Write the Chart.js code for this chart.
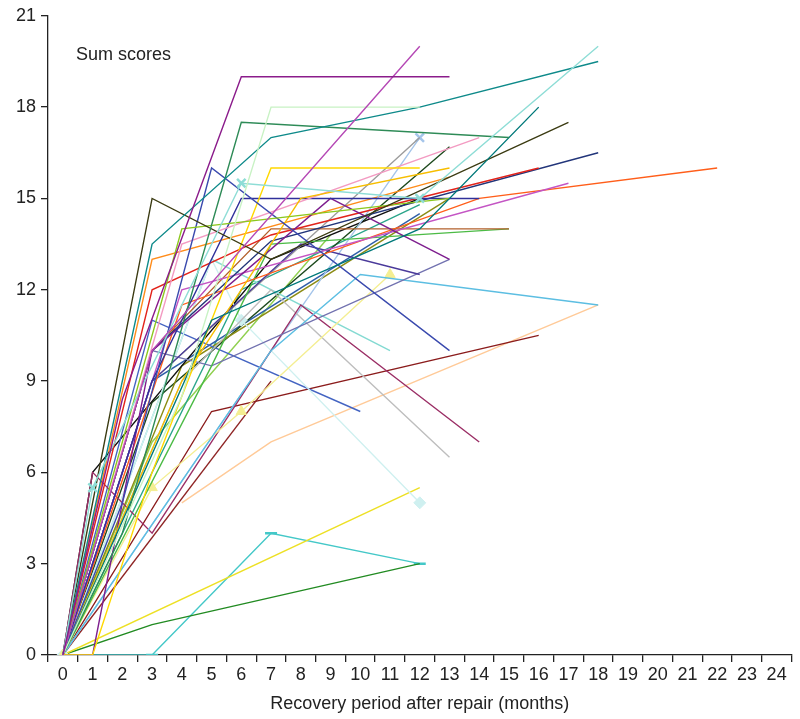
<!DOCTYPE html>
<html>
<head>
<meta charset="utf-8">
<script src="https://cdn.jsdelivr.net/npm/chart.js@4.4.1/dist/chart.umd.min.js"></script>
<style>
  html, body { margin: 0; padding: 0; background: #fff; }
  #wrap { width: 800px; height: 719px; position: relative; }
</style>
</head>
<body>
<div id="wrap"><canvas id="graph"></canvas></div>
<script>
const panelTitle = 'Sum scores';
const xTitle = 'Recovery period after repair (months)';
const monthTicks = [0,1,2,3,4,5,6,7,8,9,10,11,12,13,14,15,16,17,18,19,20,21,22,23,24];
const scoreTicks = [0,3,6,9,12,15,18,21];

// one entry per patient: months of follow-up and sum score at each visit
const lineMonths = [
  [0,2,6,13], [0,3,12], [0,4,7,12], [0,1,6,12,18], [0,3,7,12,18],
  [0,2,6,15], [0,5,12,16], [0,3,7,17], [0,4,13], [0,2,5,13],
  [0,1,3,7,12], [0,4,8,13], [0,4,14], [0,3,6,14], [0,1,3,9,13],
  [0,3,7,16], [0,3,7,18], [0,4,17], [0,4,14,22], [0,3,7,15],
  [0,5,7,15], [0,3,8,12], [0,3,5,13], [0,7,10,18], [0,3,6,11],
  [0,1,3,8,14], [0,4,7,13], [0,3,12], [0,7,12], [0,5,6,12],
  [0,5,11], [0,3,10], [0,5,16], [0,7], [4,7,18],
  [0,12], [0,3,12], [0,3,7,12], [0,1,7,12], [0,3,13],
  [0,4,13], [0,3,13], [0,3,12], [0,6,12], [0,3,9]
];
const lineScores = [
  [0,8.4,19,19], [0,10,20], [0,8.5,18,18], [0,5.5,15.5,15,20], [0,13.5,17,18,19.5],
  [0,4,17.5,17], [0,11,14,18], [0,15,13,17.5], [0,14,15], [0,5,16,10],
  [0,0,6,16,16], [0,9,15,16], [0,13.5,17], [0,9,15,15], [0,0,10,15,13],
  [0,12,13.8,16], [0,10,13.6,16.5], [0,12,15.5], [0,11.5,15,16], [0,10,14,14],
  [0,9.5,13.5,14], [0,9,13.5,12.5], [0,10,9.5,13], [0,10,12.5,11.5], [0,5.5,8,12.5],
  [0,6,4,11.5,7], [0,9,12,6.5], [0,9,17], [0,10,17], [0,13,11,5],
  [0,13,10], [0,11,8], [0,8,10.5], [0,9], [5,7,11.5],
  [0,5.5], [0,1,3], [0,0,4,3], [0,6,13,15], [0,13,15.7],
  [0,9.5,15], [0,8.3,16.7], [0,9,14.5], [0,12,14.8], [0,7,13.8]
];

const lineColors = [
  '#8B1C8B', '#B548B5', '#C8F2C4', '#8EDDD6', '#0E8A8A',
  '#2E8B57', '#00797A', '#3B3B12', '#8CC81E', '#3A4AAE',
  '#FFD800', '#F7BE00', '#F39BC2', '#30309A', '#7E1E8E',
  '#E2231A', '#22357A', '#C455C4', '#FF5E1A', '#B3602C',
  '#4CBB46', '#4A3A9A', '#7272B0', '#5CBEE2', '#F4EE92',
  '#9B2F66', '#BEBEBE', '#9C9C9C', '#A5C5EA', '#CFF0F0',
  '#84DAD2', '#4464C2', '#8B1C1C', '#8E2424', '#FFCA98',
  '#EDE024', '#228B22', '#44C8C8', '#111111', '#FF8C1A',
  '#8C8C14', '#1E4A1E', '#2F5FA8', '#2AA58A', '#90D050'
];

// series drawn with symbols: style and which visits get one
const markers = {
  3: { style: 'crossRot', at: [1,2,3] },
  28: { style: 'crossRot', at: [2] },
  29: { style: 'rectRot', at: [0,2,3] },
  24: { style: 'triangle', at: [0,1,2,3] },
  37: { style: 'line', at: [1,2,3] }
};

const fontFamily = '"Liberation Sans", Arial, Helvetica, sans-serif';
const ink = '#222';

const datasets = lineMonths.map((months, i) => {
  const pts = months.map((m, j) => ({ x: m, y: lineScores[i][j] }));
  const mk = markers[i];
  return {
    label: 'Patient ' + (i + 1),
    data: pts,
    borderColor: lineColors[i],
    backgroundColor: lineColors[i],
    borderWidth: 1.4,
    tension: 0,
    pointStyle: mk ? mk.style : 'circle',
    pointRadius: mk ? months.map((m, j) => mk.at.includes(j) ? 6 : 0) : 0,
    pointBorderWidth: mk && (mk.style === 'line' || mk.style === 'crossRot') ? 2.5 : 1,
    pointHoverRadius: 0
  };
});

const sumLabel = {
  id: 'sumLabel',
  afterDraw(chart) {
    const ctx = chart.ctx;
    ctx.save();
    ctx.font = '18px ' + fontFamily;
    ctx.fillStyle = ink;
    ctx.textBaseline = 'middle';
    ctx.fillText(panelTitle, chart.chartArea.left + 28, chart.chartArea.top + 39);
    ctx.restore();
  }
};

const config = {
  type: 'line',
  data: { datasets: datasets },
  options: {
    responsive: true,
    maintainAspectRatio: false,
    animation: false,
    layout: { padding: { top: 14, right: 7, bottom: 0, left: 0 } },
    plugins: { legend: { display: false }, tooltip: { enabled: false } },
    scales: {
      x: {
        type: 'linear',
        min: -0.5,
        max: 24.5,
        afterBuildTicks: s => { s.ticks = monthTicks.map(v => ({ value: v })); },
        afterFit: s => { s.height = 64; },
        grid: { offset: true, drawOnChartArea: false, drawTicks: true, tickLength: 7, color: ink, lineWidth: 1.3 },
        border: { color: ink, width: 1.3 },
        ticks: { font: { size: 18, family: fontFamily }, color: ink, padding: 2, maxRotation: 0, autoSkip: false },
        title: { display: true, text: xTitle, font: { size: 18, family: fontFamily }, color: ink, padding: { top: 0, bottom: 4 } }
      },
      y: {
        min: 0,
        max: 21,
        afterBuildTicks: s => { s.ticks = scoreTicks.map(v => ({ value: v })); },
        afterFit: s => { s.width = 48; },
        grid: { drawOnChartArea: false, drawTicks: true, tickLength: 7, color: ink, lineWidth: 1.3 },
        border: { color: ink, width: 1.3 },
        ticks: { font: { size: 18, family: fontFamily }, color: ink, padding: 5 }
      }
    }
  },
  plugins: [sumLabel]
};

const canvas = document.querySelector('#graph');
const myChart = new Chart(canvas, config);
</script>
</body>
</html>
